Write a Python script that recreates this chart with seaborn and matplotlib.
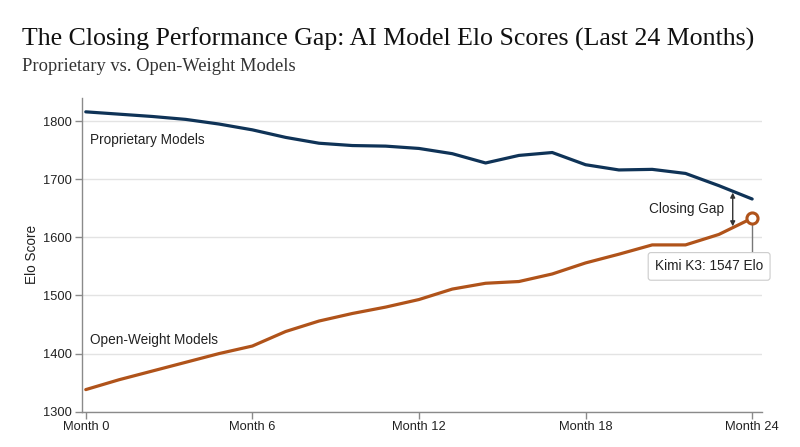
import numpy as np
import pandas as pd
import matplotlib
matplotlib.use("Agg")
import matplotlib.pyplot as plt
import seaborn as sns

months = [0, 1.2, 2.4, 3.6, 4.8, 6.0, 7.2, 8.4, 9.6, 10.8, 12.0,
          13.2, 14.4, 15.6, 16.8, 18.0, 19.2, 20.4, 21.6, 22.8, 24.0]
proprietary = [1816, 1812, 1808, 1803, 1795, 1785, 1772, 1762, 1758, 1757, 1753,
               1744, 1728, 1741, 1746, 1725, 1716, 1717, 1710, 1689, 1666]
open_weight = [1338, 1355, 1370, 1385, 1400, 1413, 1438, 1456, 1469, 1480, 1493,
               1511, 1521, 1524, 1537, 1556, 1571, 1587, 1587, 1605, 1633]
tick_months = [0, 6, 12, 18, 24]
tick_labels = ["Month 0", "Month 6", "Month 12", "Month 18", "Month 24"]
y_ticks = [1300, 1400, 1500, 1600, 1700, 1800]

navy = "#0f3357"
orange = "#b0531a"

df = pd.DataFrame({
    "Month": months * 2,
    "Elo": proprietary + open_weight,
    "Group": ["Proprietary Models"] * len(months) + ["Open-Weight Models"] * len(months),
})

sns.set_theme(style="white")
plt.rcParams['font.family'] = ['Liberation Sans', 'DejaVu Sans']

fig = plt.figure(figsize=(8, 4.47), dpi=100)
ax = fig.add_axes([0.102, 0.079, 0.850, 0.702])

sns.lineplot(data=df, x="Month", y="Elo", hue="Group",
             palette={"Proprietary Models": navy, "Open-Weight Models": orange},
             linewidth=2.3, legend=False, ax=ax)

# end marker for the latest open-weight model
ax.plot(months[-1], open_weight[-1], marker="o", markersize=8,
        markerfacecolor="white", markeredgecolor=orange, markeredgewidth=2.2, zorder=5)

ax.set_xlim(-0.15, 24.34)
ax.set_ylim(1300, 1840)
ax.set_xticks(tick_months)
ax.set_xticklabels(tick_labels)
ax.set_yticks(y_ticks)
ax.yaxis.grid(True, color="#e3e3e3", linewidth=1)
ax.set_axisbelow(True)
for s in ["top", "right"]:
    ax.spines[s].set_visible(False)
for s in ["left", "bottom"]:
    ax.spines[s].set_color("#8a8a8a")
    ax.spines[s].set_linewidth(1)
ax.tick_params(axis="both", length=5, width=1, color="#8a8a8a",
               labelsize=9.3, labelcolor="#222222", pad=2, bottom=True, left=True)
ax.set_xlabel("")
ax.set_ylabel("Elo Score", fontsize=9.8, color="#222222", labelpad=3)

# series labels
ax.text(0.15, 1767, "Proprietary Models", fontsize=9.8, color="#222222", va="center")
ax.text(0.15, 1423, "Open-Weight Models", fontsize=9.8, color="#222222", va="center")

# closing gap arrow
ax.annotate("", xy=(23.3, 1619), xytext=(23.3, 1677),
            arrowprops=dict(arrowstyle="<|-|>", color="#333333", lw=1,
                            mutation_scale=7, shrinkA=0, shrinkB=0))
ax.text(23.0, 1648, "Closing Gap", fontsize=9.8, color="#222222",
        ha="right", va="center")

# callout for last point
ax.plot([months[-1], months[-1]], [open_weight[-1] - 8, 1573],
        color="#777777", linewidth=1, zorder=3)
ax.text(22.45, 1550, "Kimi K3: 1547 Elo", fontsize=9.8, color="#222222",
        ha="center", va="center", zorder=6,
        bbox=dict(boxstyle="round,pad=0.5,rounding_size=0.2", facecolor="white",
                  edgecolor="#cccccc", linewidth=0.8))

fig.text(0.027, 0.912, "The Closing Performance Gap: AI Model Elo Scores (Last 24 Months)",
         fontsize=18.6, family=["Liberation Serif", "DejaVu Serif"], color="#111111",
         va="center")
fig.text(0.027, 0.851, "Proprietary vs. Open-Weight Models",
         fontsize=13.3, family=["Liberation Serif", "DejaVu Serif"], color="#333333",
         va="center")

fig.savefig("out.png", dpi=100)
